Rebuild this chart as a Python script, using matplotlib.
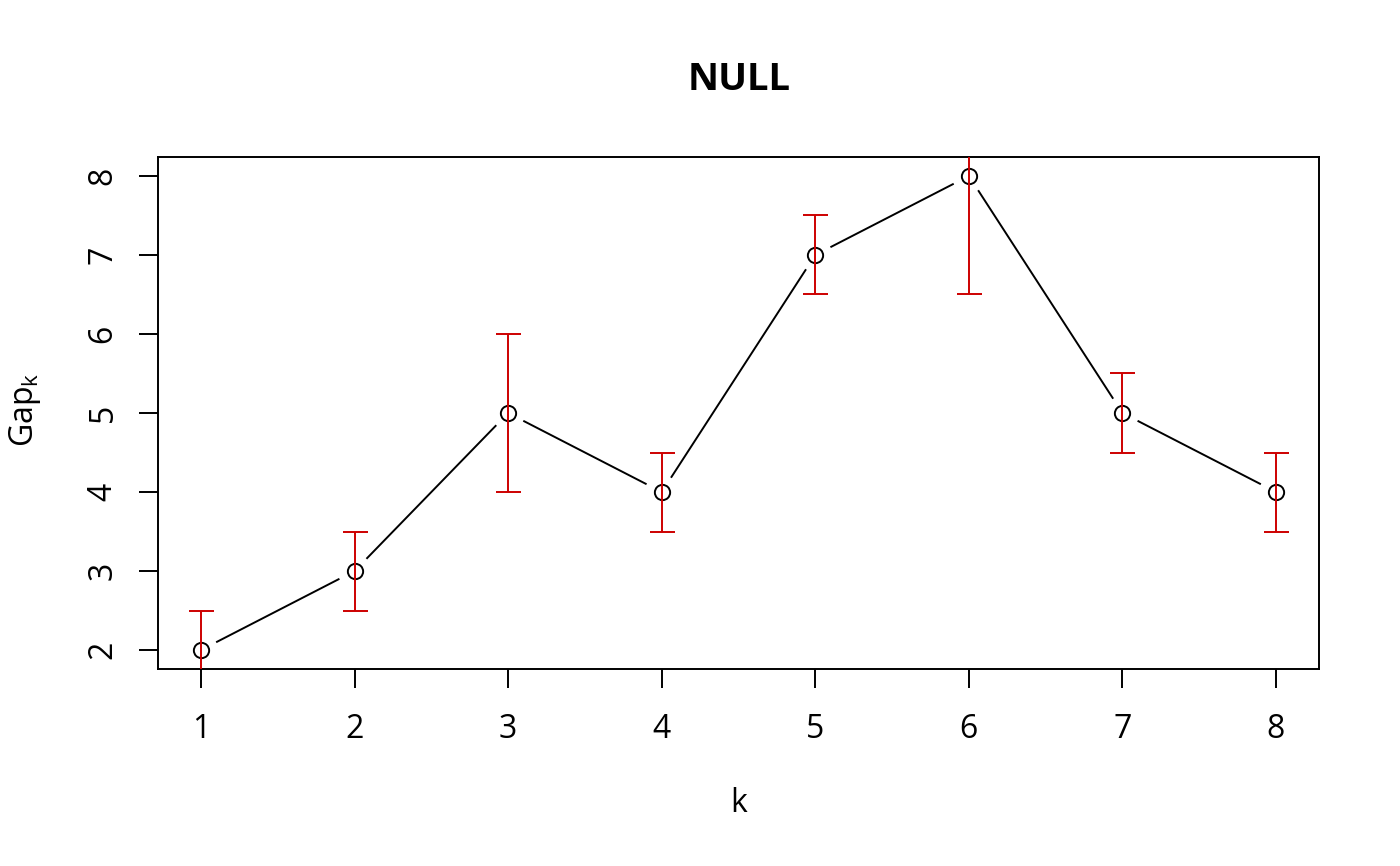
import numpy as np
import matplotlib
matplotlib.use("Agg")
import matplotlib.pyplot as plt

plt.rcParams['font.family'] = ['Open Sans', 'DejaVu Sans']
plt.rcParams['mathtext.default'] = 'regular'

# datos
k = [1, 2, 3, 4, 5, 6, 7, 8]
gap = [2, 3, 5, 4, 7, 8, 5, 4]
se = [0.5, 0.5, 1.0, 0.5, 0.5, 1.5, 0.5, 0.5]
x_ticks = [1, 2, 3, 4, 5, 6, 7, 8]
y_ticks = [2, 3, 4, 5, 6, 7, 8]

fig = plt.figure(figsize=(14, 8.66), dpi=100)
ax = fig.add_axes([158 / 1400, 1 - 669 / 866, 1161 / 1400, 512 / 866])

# limites estilo R (4% extra)
xr = max(k) - min(k)
yr = max(gap) - min(gap)
ax.set_xlim(min(k) - 0.04 * xr, max(k) + 0.04 * xr)
ax.set_ylim(min(gap) - 0.04 * yr, max(gap) + 0.04 * yr)

# lineas con hueco alrededor de los puntos (type = "b")
hueco = 18
pts = ax.transData.transform(np.column_stack([k, gap]))
inv = ax.transData.inverted()
for i in range(len(k) - 1):
    p0, p1 = pts[i], pts[i + 1]
    d = p1 - p0
    u = d / np.hypot(*d)
    a = inv.transform(p0 + u * hueco)
    b = inv.transform(p1 - u * hueco)
    ax.plot([a[0], b[0]], [a[1], b[1]], color='black', lw=1.4, zorder=2)

ax.plot(k, gap, 'o', mfc='none', mec='black', ms=11, mew=1.4, zorder=3)
ax.errorbar(k, gap, yerr=se, fmt='none', ecolor='#CD0000', elinewidth=1.4,
            capsize=9, capthick=1.4, zorder=4)

ax.set_xticks(x_ticks)
ax.set_yticks(y_ticks)
ax.tick_params(axis='both', length=13.7, width=1.4, labelsize=23)
ax.tick_params(axis='x', pad=18)
ax.tick_params(axis='y', pad=14)
for lab in ax.get_yticklabels():
    lab.set_rotation(90)
    lab.set_va('center')
for s in ax.spines.values():
    s.set_linewidth(1.4)

fig.text(739 / 1400, 1 - 80 / 866, 'NULL', ha='center', va='center',
         fontsize=27.5, fontweight='bold')
fig.text(739 / 1400, 1 - 803 / 866, 'k', ha='center', va='center', fontsize=23)
fig.text(25 / 1400, 1 - 410 / 866, 'Gap$_{k}$', ha='center', va='center',
         rotation=90, fontsize=23)

fig.savefig('out.png', dpi=100)
